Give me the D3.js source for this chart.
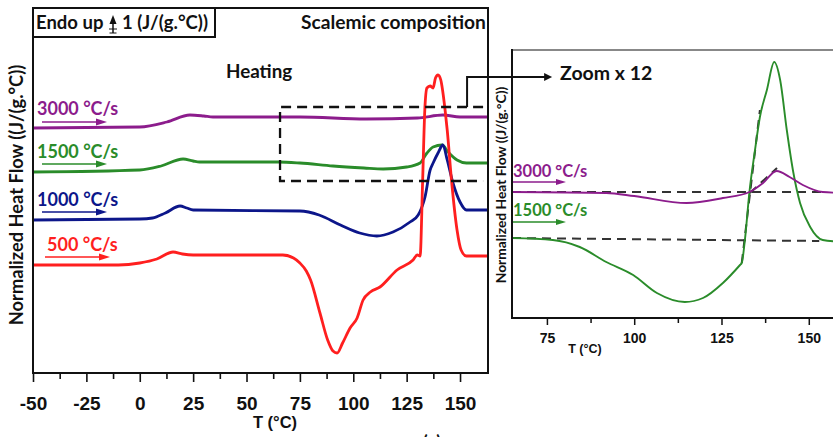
<!DOCTYPE html>
<html><head><meta charset="utf-8">
<script src="https://cdn.jsdelivr.net/npm/d3@7"></script>
<style>body{margin:0;background:#fff}svg{display:block}</style>
</head><body>
<svg id="c" width="833" height="437"></svg>
<script>
// ---------- DATA (normalized heat flow, arbitrary offset units) ----------
const tRed   = [-50,-10,0,8,15.6,20,25,67,72,75,78,80,84.4,88,90.5,92.4,95,98.5,101.8,104.6,108,112.5,120.5,128,130,131.3,132.5,133.5,134.5,136,137.4,138.5,139.7,141,141.6,143,144,146,148.6,150.5,153,163];
const hfRed  = [10.8,10.8,11.0,11.4,12.1,11.9,11.8,11.8,11.5,11.0,10.2,9.3,6.0,3.3,2.2,2.0,3.0,4.5,5.5,7.3,8.1,8.6,10.3,11.3,11.8,11.7,19.3,26.3,28.5,28.7,28.5,29.5,29.8,29.3,28.6,26.3,24.3,19.3,14.3,12.3,11.7,11.7];
const tBlue  = [-50,0,6,12,18.9,22,25,75,84,94,103,111,118.6,126.6,130.4,133.6,136,137.4,139.7,142,144,146.7,150,153,163];
const hfBlue = [15.3,15.4,15.5,16.0,16.7,16.5,16.3,16.2,15.8,14.8,14.0,13.7,14.1,15.1,15.8,17.6,20.3,21.0,22.0,22.8,21.3,19.0,17.1,16.3,16.3];
const tGreen = [-50,0,10,20.3,25,28,65,75,90.5,105,114,125,131.3,134.5,137.4,141.6,144.4,148.6,153,163];
const hfGreen= [20.1,20.3,20.7,21.4,21.2,21.1,21.1,21.0,20.7,20.5,20.4,20.6,21.0,22.0,22.6,22.8,22.1,21.3,21.0,21.0];
const tPurple= [-50,0,12.7,23.5,30,34.3,75,106,130,142,150,163];
const hfPurple=[24.5,24.6,25.1,25.8,25.7,25.6,25.6,25.4,25.5,25.8,25.6,25.6];

// zoomed panel (x12)
const tZPurple = [65,92,100,115,125.4,133,136.9,140.8,144.5,148.3,154,160];
const hfZPurple= [12.6,12.5,12.2,11.5,12.0,12.6,13.5,14.7,14.1,13.3,12.6,12.5];
const tZGreen  = [65,76.7,84.4,92,99.7,106.5,114.5,119.7,125.4,130.3,130.8,131.7,133,134.6,136,138,140.1,141.8,143.7,145.6,147.5,150.4,154,160];
const hfZGreen = [8.0,7.8,7.1,5.6,4.3,2.5,1.6,2.0,3.5,5.3,5.5,7.8,12.6,16.8,20.1,22.8,25.6,23.8,18.8,14.5,11.5,9.1,7.8,7.6];

const rateLabels = ["500 °C/s","1000 °C/s","1500 °C/s","3000 °C/s"];
const colors = {red:"#ff1f1f", blue:"#0c168a", green:"#2a8c2a", purple:"#8c1c8c"};
const mainTicksMajor = [-50,-25,0,25,50,75,100,125,150];
const mainTicksMinor = [-37.5,-12.5,12.5,37.5,62.5,87.5,112.5,137.5];
const zoomTicksMajor = [75,100,125,150];
const zoomTicksMinor = [87.5,112.5,137.5];

// ---------- SCALES ----------
const svg = d3.select("#c");
const x  = d3.scaleLinear().domain([-50,163.1]).range([33,488]);
const y  = d3.scaleLinear().domain([0,36.5]).range([373,8]);
const xR = d3.scaleLinear().domain([65,160]).range([512,843.7]);
const yR = d3.scaleLinear().domain([0,26.8]).range([318,50]);

const TXT = "Lato, 'Open Sans', sans-serif";
const NUM = "'Liberation Sans', Arial, sans-serif";

const defs = svg.append("defs");
defs.append("clipPath").attr("id","cm").append("rect").attr("x",33).attr("y",8).attr("width",455).attr("height",365);
defs.append("clipPath").attr("id","cz").append("rect").attr("x",512).attr("y",50).attr("width",330).attr("height",268);

function arrow(g, x1, x2, yy, color, sw, hl, hw){
  g.append("line").attr("x1",x1).attr("x2",x2-hl+1).attr("y1",yy).attr("y2",yy)
    .attr("stroke",color).attr("stroke-width",sw);
  g.append("path").attr("d",`M${x2},${yy}L${x2-hl},${yy-hw/2}L${x2-hl},${yy+hw/2}Z`).attr("fill",color);
}

// ---------- MAIN PANEL ----------
const gm = svg.append("g");
const lineM = d3.line().x(d=>x(d[0])).y(d=>y(d[1])).curve(d3.curveMonotoneX);
const mainSeries = [[tPurple,hfPurple,colors.purple],[tGreen,hfGreen,colors.green],[tBlue,hfBlue,colors.blue],[tRed,hfRed,colors.red]];
const gcur = gm.append("g").attr("clip-path","url(#cm)");
mainSeries.forEach(([t,v,c])=>{
  gcur.append("path").datum(d3.zip(t,v)).attr("d",lineM).attr("fill","none")
    .attr("stroke",c).attr("stroke-width",2.8).attr("stroke-linejoin","round");
});

// axes
const axMin = gm.append("g").attr("transform","translate(0,373)")
  .call(d3.axisBottom(x).tickValues(mainTicksMinor).tickSize(6).tickFormat(""));
const axMaj = gm.append("g").attr("transform","translate(0,373)")
  .call(d3.axisBottom(x).tickValues(mainTicksMajor).tickSize(9).tickPadding(15).tickFormat(d=>String(d)));
[axMin,axMaj].forEach(a=>{a.select(".domain").remove(); a.selectAll("line").attr("stroke","#111").attr("stroke-width",1.6);});
axMaj.selectAll("text").attr("font-family",NUM).attr("font-weight","bold").attr("font-size",19).attr("fill","#111");

// frame
gm.append("rect").attr("x",33).attr("y",8).attr("width",455).attr("height",365)
  .attr("fill","none").attr("stroke","#111").attr("stroke-width",2);

gm.append("text").attr("x",275).attr("y",428).attr("text-anchor","middle")
  .attr("font-family",NUM).attr("font-weight","bold").attr("font-size",16.5).attr("fill","#111").text("T (°C)");
gm.append("text").attr("transform","translate(23,195) rotate(-90)").attr("text-anchor","middle")
  .attr("font-family",TXT).attr("font-weight","bold").attr("font-size",18.3).attr("fill","#111")
  .text("Normalized Heat Flow ((J/(g.°C))");

// Endo up box
gm.append("rect").attr("x",33).attr("y",8).attr("width",182).attr("height",29)
  .attr("fill","#fff").attr("stroke","#111").attr("stroke-width",2);
gm.append("text").attr("x",36).attr("y",29).attr("font-family",TXT).attr("font-weight","bold")
  .attr("font-size",18.5).attr("fill","#111").text("Endo up");
gm.append("path").attr("d","M113,15L109.5,24L116.5,24Z").attr("fill","#111");
gm.append("line").attr("x1",113).attr("x2",113).attr("y1",23).attr("y2",33).attr("stroke","#111").attr("stroke-width",1.5);
gm.append("line").attr("x1",109).attr("x2",117).attr("y1",29).attr("y2",29).attr("stroke","#111").attr("stroke-width",1);
gm.append("line").attr("x1",109.5).attr("x2",116.5).attr("y1",33).attr("y2",33).attr("stroke","#111").attr("stroke-width",1);
gm.append("text").attr("x",122).attr("y",29).attr("font-family",TXT).attr("font-weight","bold")
  .attr("font-size",18.5).attr("fill","#111").text("1 (J/(g.°C))");

gm.append("text").attr("x",301).attr("y",29).attr("font-family",TXT).attr("font-weight","bold")
  .attr("font-size",19.2).attr("fill","#111").text("Scalemic composition");
gm.append("text").attr("x",226).attr("y",78).attr("font-family",TXT).attr("font-weight","bold")
  .attr("font-size",18.8).attr("fill","#111").text("Heating");

// legends (main)
const legM = [
  [rateLabels[3], colors.purple, 37, 115, 42, 107, 122],
  [rateLabels[2], colors.green, 37, 158, 42, 107, 164],
  [rateLabels[1], colors.blue, 37, 206, 42, 107, 212],
  [rateLabels[0], colors.red, 47, 251, 45, 110, 257]
];
legM.forEach(([lab,c,tx,ty,a1,a2,ay])=>{
  gm.append("text").attr("x",tx).attr("y",ty).attr("font-family",TXT).attr("font-weight","bold")
    .attr("font-size",18).attr("fill",c).text(lab);
  arrow(gm,a1,a2,ay,c,1.6,11,7);
});

// dashed zoom rectangle
gm.append("path")
  .attr("d",`M${x(160.8)},${y(26.6)}H${x(65.7)}V${y(19.2)}H${x(160.8)}`)
  .attr("fill","none").attr("stroke","#111").attr("stroke-width",2.3).attr("stroke-dasharray","10,6");

// connector
svg.append("path").attr("d",`M${x(153.3)},${y(26.6)}V${y(29.6)}H${xR(75.3)}`)
  .attr("fill","none").attr("stroke","#111").attr("stroke-width",2);
svg.append("path").attr("d",`M${xR(76.5)},${y(29.6)}l-8,-4v8Z`).attr("fill","#111");
svg.append("text").attr("x",560).attr("y",80).attr("font-family",TXT).attr("font-weight","bold")
  .attr("font-size",19.5).attr("fill","#111").text("Zoom x 12");

// ---------- ZOOM PANEL ----------
const gz = svg.append("g");
const lineZ = d3.line().x(d=>xR(d[0])).y(d=>yR(d[1])).curve(d3.curveMonotoneX);
const lineZs = d3.line().x(d=>xR(d[0])).y(d=>yR(d[1]));
const gzc = gz.append("g").attr("clip-path","url(#cz)");
// dashed baselines and tangents
const dz = [[[65,12.6],[154,12.6]], [[65,8.0],[153,7.7]], [[130.8,5.5],[136.0,20.8]], [[133.1,12.5],[140.9,15.0]]];
dz.forEach(seg=>{
  gzc.append("path").attr("d",lineZs(seg)).attr("fill","none")
    .attr("stroke","#333").attr("stroke-width",2).attr("stroke-dasharray","9,6");
});
[[tZGreen,hfZGreen,colors.green],[tZPurple,hfZPurple,colors.purple]].forEach(([t,v,c])=>{
  gzc.append("path").datum(d3.zip(t,v)).attr("d",lineZ).attr("fill","none")
    .attr("stroke",c).attr("stroke-width",1.9).attr("stroke-linejoin","round");
});

const azMin = gz.append("g").attr("transform","translate(0,318)")
  .call(d3.axisBottom(xR).tickValues(zoomTicksMinor).tickSize(5).tickFormat(""));
const azMaj = gz.append("g").attr("transform","translate(0,318)")
  .call(d3.axisBottom(xR).tickValues(zoomTicksMajor).tickSize(7).tickPadding(8).tickFormat(d=>String(d)));
[azMin,azMaj].forEach(a=>{a.select(".domain").remove(); a.selectAll("line").attr("stroke","#111").attr("stroke-width",1.5);});
azMaj.selectAll("text").attr("font-family",NUM).attr("font-weight","bold").attr("font-size",14).attr("fill","#111");

gz.append("line").attr("x1",512).attr("x2",833).attr("y1",50).attr("y2",50).attr("stroke","#888").attr("stroke-width",2);
gz.append("line").attr("x1",512).attr("x2",512).attr("y1",49).attr("y2",319).attr("stroke","#111").attr("stroke-width",2);
gz.append("line").attr("x1",511).attr("x2",833).attr("y1",318).attr("y2",318).attr("stroke","#111").attr("stroke-width",2);

gz.append("text").attr("x",585).attr("y",353).attr("text-anchor","middle")
  .attr("font-family",NUM).attr("font-weight","bold").attr("font-size",12.5).attr("fill","#111").text("T (°C)");
gz.append("text").attr("transform","translate(506,185) rotate(-90)").attr("text-anchor","middle")
  .attr("font-family",TXT).attr("font-weight","bold").attr("font-size",13.8).attr("fill","#111")
  .text("Normalized Heat Flow ((J/(g.°C))");

const legZ = [[rateLabels[3], colors.purple, 177, 182],[rateLabels[2], colors.green, 216, 222]];
legZ.forEach(([lab,c,ty,ay])=>{
  gz.append("text").attr("x",513).attr("y",ty).attr("font-family",TXT).attr("font-weight","bold")
    .attr("font-size",16.5).attr("fill",c).text(lab);
  arrow(gz,513,566,ay,c,1.5,10,6);
});

// panel tag (cut off at bottom, as in the source figure)
svg.append("text").attr("x",432).attr("y",449).attr("text-anchor","middle").attr("font-family",TXT)
  .attr("font-weight","bold").attr("font-size",18).attr("fill","#111").text("(a)");
</script>
</body></html>
